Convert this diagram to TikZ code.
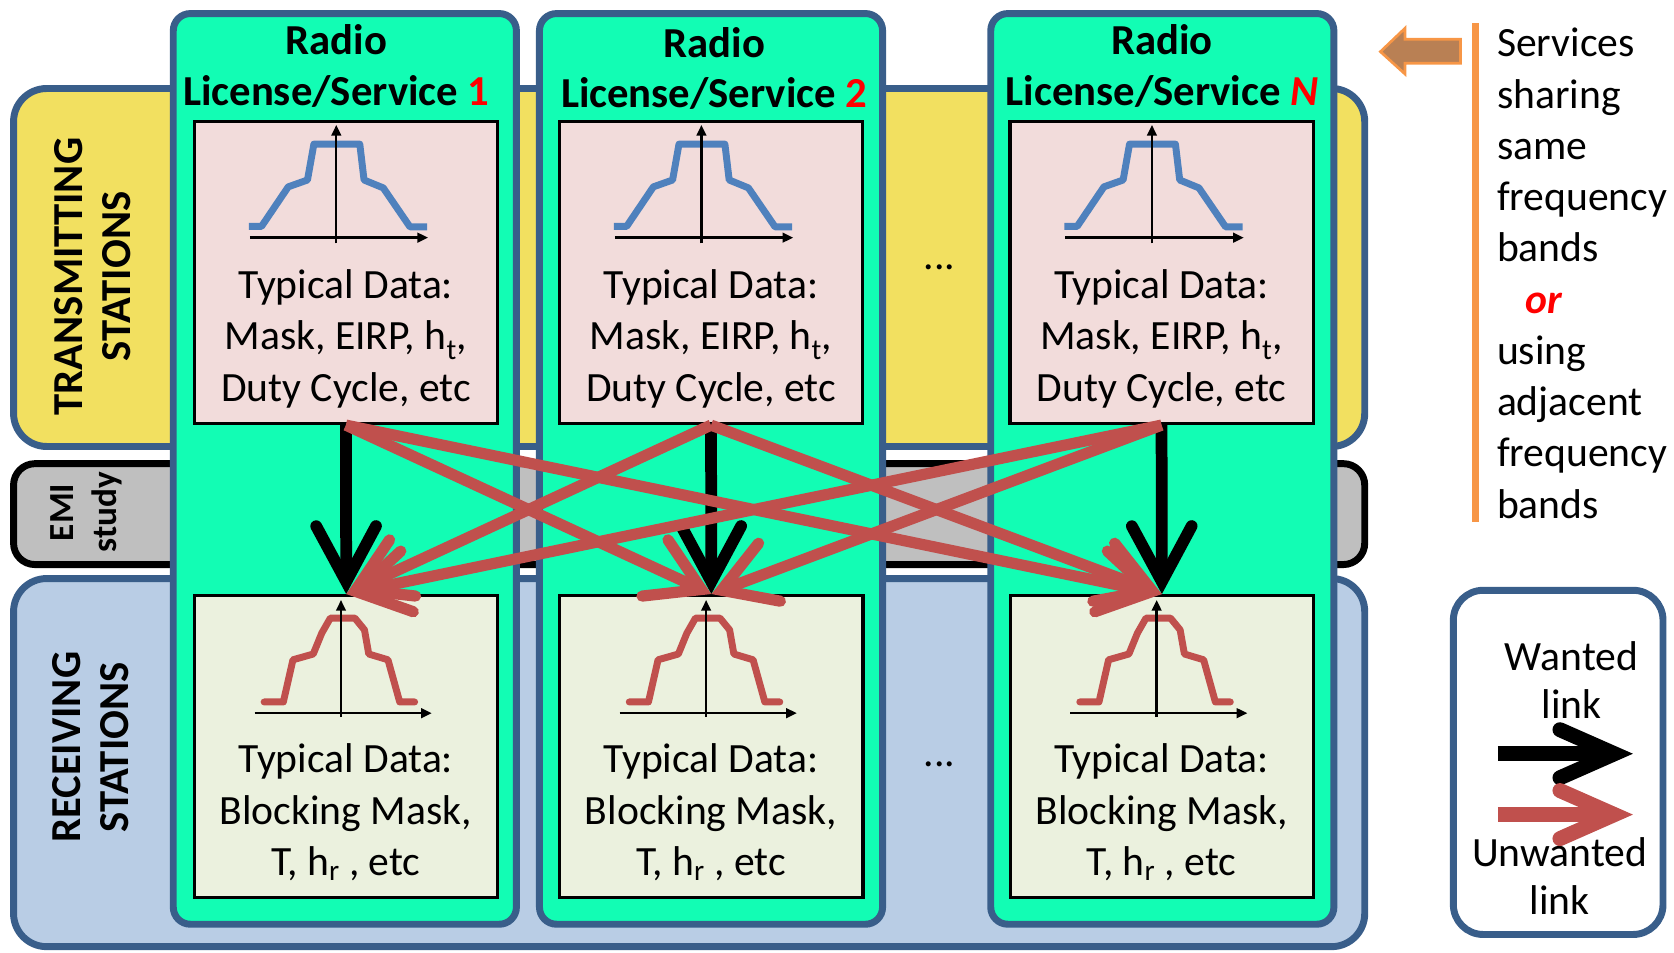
\documentclass[tikz,border=0pt]{standalone}
\usepackage{fontspec}
\setmainfont{Carlito}
\usetikzlibrary{arrows.meta}

\definecolor{mint}{RGB}{18,253,180}
\definecolor{frame}{RGB}{57,94,138}
\definecolor{sun}{RGB}{242,224,96}
\definecolor{emigray}{RGB}{191,191,191}
\definecolor{rxblue}{RGB}{185,205,229}
\definecolor{txpink}{RGB}{242,220,219}
\definecolor{rxcream}{RGB}{235,241,222}
\definecolor{unw}{RGB}{192,80,77}
\definecolor{maskblue}{RGB}{79,129,189}
\definecolor{orangeline}{RGB}{247,150,70}
\definecolor{wood}{RGB}{185,128,84}

\tikzset{
  band/.style={line width=6.5pt, rounded corners=31pt},
  column/.style={draw=frame, fill=mint, line width=6.5pt, rounded corners=16pt,
                 minimum width=321.4pt, minimum height=853pt, inner sep=0pt},
  databox/.style={draw=black, line width=3pt, minimum width=284pt,
                  minimum height=283pt, inner sep=0pt},
  txbox/.style={databox, fill=txpink},
  rxbox/.style={databox, fill=rxcream},
  body/.style={font=\fontsize{39}{48}\selectfont, align=center, inner sep=0pt},
  legtext/.style={font=\fontsize{39}{45}\selectfont, align=center, inner sep=0pt},
  header/.style={font=\bfseries\fontsize{40}{47}\selectfont, align=center, inner sep=0pt},
  side/.style={font=\bfseries\fontsize{40}{45}\selectfont, align=center, inner sep=0pt, rotate=90},
  emitext/.style={font=\bfseries\fontsize{33}{40}\selectfont, align=center, inner sep=0pt, rotate=90},
  wanted/.style={line width=11pt,
    -{Straight Barb[length=52pt, width=56pt, line cap=round, line join=miter]}},
  unwanted/.style={unw, line width=10.5pt,
    -{Straight Barb[length=48pt, width=58pt, line cap=round, line join=miter]}},
  legwanted/.style={line width=14pt,
    -{Straight Barb[length=51pt, width=45pt, line cap=round, line join=miter]}},
  legunwanted/.style={unw, line width=14pt,
    -{Straight Barb[length=51pt, width=45pt, line cap=round, line join=miter]}},
  axis/.style={line width=2.2pt, -{Triangle[length=10pt, width=9pt]}},
  txmask/.pic={
    \draw[maskblue, line width=6.5pt, line join=round]
      (-82,212) -- (-70,212) -- (-45,175) -- (-27,168.6) -- (-21,135) -- (22,135)
      -- (26,168.6) -- (44,176) -- (69,212.5) -- (85,212.5);
    \draw[axis] (-81,222.6) -- (86,222.6);
    \draw[axis] (0,228) -- (0,117);
  },
  rxmask/.pic={
    \draw[unw, line width=6.5pt, line join=round, line cap=round]
      (-72,657.5) -- (-54,657.5) -- (-45,618) -- (-26,612.6) -- (-18,593) -- (-10,579)
      -- (13,579) -- (22,590) -- (26,612.6) -- (44,618) -- (55,657.5) -- (69,657.5);
    \draw[axis] (-81,668) -- (85,668);
    \draw[axis] (0,671.6) -- (0,562);
  }
}

\begin{document}
\begin{tikzpicture}[x=1pt, y=-1pt]
\useasboundingbox (0,0) rectangle (1568,892);

% horizontal bands: transmitters, EMI study, receivers
\draw[band, draw=frame, fill=sun] (12.7,82.9) rectangle (1278.3,418.2);
\draw[band, draw=black, fill=emigray, rounded corners=20pt] (12.7,434.3) rectangle (1278.3,528.8);
\draw[band, draw=frame, fill=rxblue] (12.7,541.9) rectangle (1278.3,886.7);

\node[side] (txlab) at (87,259) {TRANSMITTING\\STATIONS};
\node[emitext] (emilab) at (81,480) {EMI\\study};
\node[side] (rxlab) at (84.5,700) {RECEIVING\\STATIONS};

% one column per radio licence / service
\node[column] (col1) at (323,439.2) {};
\node[column] (col2) at (666,439.2) {};
\node[column] (colN) at (1088.7,439.2) {};

% multi-line nodes: the base anchor sits on the last line
\node[header, anchor=base] (head1) at (315,98.4) {Radio\\License/Service \textcolor{red}{1}};
\node[header, anchor=base] (head2) at (669,100.4) {Radio\\License/Service \textcolor{red}{2}};
\node[header, anchor=base] (headN) at (1088.5,98.4) {Radio\\License/Service \textcolor{red}{\itshape N}};

% transmitter and receiver data boxes
\node[txbox] (tx1) at (324,255.2) {};
\node[txbox] (tx2) at (666,255.2) {};
\node[txbox] (txN) at (1088,255.2) {};
\node[rxbox] (rx1) at (324.3,699.4) {};
\node[rxbox] (rx2) at (666.3,699.4) {};
\node[rxbox] (rxN) at (1088.3,699.4) {};

\pic at (315,0) {txmask};
\pic at (657,0) {txmask};
\pic at (1079,0) {txmask};
\pic at (319.4,0) {rxmask};
\pic at (661.4,0) {rxmask};
\pic at (1083.4,0) {rxmask};

\node[body, anchor=base] (txd1) at (324,375.8) {Typical Data:\\Mask, EIRP, h\textsubscript{t},\\Duty Cycle, etc};
\node[body, anchor=base] (txd2) at (666,375.8) {Typical Data:\\Mask, EIRP, h\textsubscript{t},\\Duty Cycle, etc};
\node[body, anchor=base] (txdN) at (1088,375.8) {Typical Data:\\Mask, EIRP, h\textsubscript{t},\\Duty Cycle, etc};
\node[body, anchor=base] (rxd1) at (324,820) {Typical Data:\\Blocking Mask,\\T, h\textsubscript{r} , etc};
\node[body, anchor=base] (rxd2) at (666,820) {Typical Data:\\Blocking Mask,\\T, h\textsubscript{r} , etc};
\node[body, anchor=base] (rxdN) at (1088,820) {Typical Data:\\Blocking Mask,\\T, h\textsubscript{r} , etc};

\node[body] (dotstx) at (880,250) {...};
\node[body] (dotsrx) at (880,716) {...};

% wanted links
\draw[wanted] (tx1.south) -- (rx1.north);
\draw[wanted] (tx2.south) -- (rx2.north);
\draw[wanted] (txN.south) -- (rxN.north);

% unwanted (interfering) links
\draw[unwanted] (tx1.south) -- (rx2.north);
\draw[unwanted] (tx1.south) -- (rxN.north);
\draw[unwanted] (tx2.south) -- (rx1.north);
\draw[unwanted] (tx2.south) -- (rxN.north);
\draw[unwanted] (txN.south) -- (rx1.north);
\draw[unwanted] (txN.south) -- (rx2.north);

% side note
\draw[draw=orangeline, fill=wood, line width=2.5pt]
  (1293,48.4) -- (1316,26.5) -- (1316,36.8) -- (1368,36.8) -- (1368,59.3)
  -- (1316,59.3) -- (1316,69.3) -- cycle;
\draw[orangeline, line width=6.5pt] (1382,22) -- (1382,489);
\node[body, align=left, anchor=base west] (note) at (1402,485.2)
  {Services\\sharing\\same\\frequency\\bands\\\hspace*{27pt}\textcolor{red}{\bfseries\itshape or}\\using\\adjacent\\frequency\\bands};

% legend
\node[draw=frame, line width=6.5pt, rounded corners=28pt, fill=white,
      minimum width=196.4pt, minimum height=322.4pt, inner sep=0pt] (legend) at (1459.5,714.1) {};
\node[legtext, anchor=base] (wlab) at (1472,672.8) {Wanted\\link};
\node[legtext, anchor=base] (ulab) at (1461,857) {Unwanted\\link};
\coordinate (w0) at (1403,706);
\coordinate (w1) at (1529.5,706);
\coordinate (u0) at (1403,763);
\coordinate (u1) at (1529.5,763);
\draw[legwanted] (w0) -- (w1);
\draw[legunwanted] (u0) -- (u1);
\end{tikzpicture}
\end{document}
